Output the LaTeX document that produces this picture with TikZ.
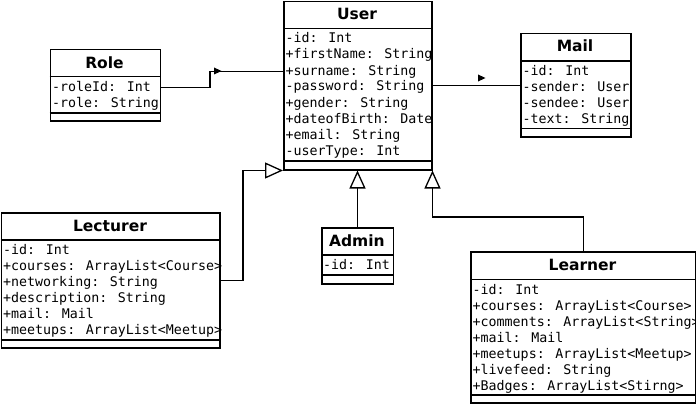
\documentclass[tikz,border=0pt]{standalone}
\usepackage{fontspec}
\setmainfont{DejaVu Sans}
\newfontfamily\attrfamily{DejaVu Sans Mono}
\usetikzlibrary{arrows.meta}

\tikzset{
  classbox/.style={draw, line width=1.5pt, fill=white, inner sep=0pt, anchor=north west},
  sep/.style={line width=1.5pt},
  classname/.style={font=\fontsize{15.5}{18}\selectfont\bfseries, anchor=base, inner sep=0pt},
  attr/.style={font=\attrfamily\fontsize{13.3}{16}\selectfont, anchor=base west, inner sep=0pt},
  assoc/.style={line width=1.3pt},
  inherit/.style={line width=1.3pt, -{Triangle[length=18pt, width=16pt, fill=white]}},
}

\begin{document}
\begin{tikzpicture}[x=1pt, y=-1pt]

\useasboundingbox (0,0) rectangle (696,404);

% User
\node [classbox, minimum width=148pt, minimum height=168pt] (user) at (283,1) {};
\draw [sep] (283,28.5)--(431,28.5);
\draw [sep] (283,161)--(431,161);
\node [classname] (usert) at (357,20) {User};
\node [attr] (user1) at (285.5,43) {-id: Int};
\node [attr] (user2) at (285.5,59) {+firstName: String};
\node [attr] (user3) at (285.5,75) {+surname: String};
\node [attr] (user4) at (285.5,91) {-password: String};
\node [attr] (user5) at (285.5,107) {+gender: String};
\node [attr] (user6) at (285.5,123) {+dateofBirth: Date};
\node [attr] (user7) at (285.5,139) {+email: String};
\node [attr] (user8) at (285.5,155) {-userType: Int};

% Role
\node [classbox, minimum width=110pt, minimum height=71pt] (role) at (49.5,49) {};
\draw [sep] (49.5,76.5)--(159.5,76.5);
\draw [sep] (49.5,113)--(159.5,113);
\node [classname] (rolet) at (104.5,68) {Role};
\node [attr] (role1) at (52,91.5) {-roleId: Int};
\node [attr] (role2) at (52,107.5) {-role: String};

% Mail
\node [classbox, minimum width=110pt, minimum height=103pt] (mail) at (520,33) {};
\draw [sep] (520,61)--(630,61);
\draw [sep] (520,128.5)--(630,128.5);
\node [classname] (mailt) at (575,52) {Mail};
\node [attr] (mail1) at (522.5,75.5) {-id: Int};
\node [attr] (mail2) at (522.5,91.5) {-sender: User};
\node [attr] (mail3) at (522.5,107.5) {-sendee: User};
\node [attr] (mail4) at (522.5,123.5) {-text: String};

% Lecturer
\node [classbox, minimum width=218.3pt, minimum height=135.3pt] (lecturer) at (0.7,212) {};
\draw [sep] (0.7,240)--(219,240);
\draw [sep] (0.7,340)--(219,340);
\node [classname] (lecturert) at (110,231) {Lecturer};
\node [attr] (lecturer1) at (3,254.5) {-id: Int};
\node [attr] (lecturer2) at (3,270.5) {+courses: ArrayList<Course>};
\node [attr] (lecturer3) at (3,286.5) {+networking: String};
\node [attr] (lecturer4) at (3,302.5) {+description: String};
\node [attr] (lecturer5) at (3,318.5) {+mail: Mail};
\node [attr] (lecturer6) at (3,334.5) {+meetups: ArrayList<Meetup>};

% Admin
\node [classbox, minimum width=71.5pt, minimum height=56pt] (admin) at (321,227) {};
\draw [sep] (321,255)--(392.5,255);
\draw [sep] (321,275)--(392.5,275);
\node [classname] (admint) at (356.8,246) {Admin};
\node [attr] (admin1) at (323,269.5) {-id: Int};

% Learner
\node [classbox, minimum width=225pt, minimum height=151.3pt] (learner) at (470,251) {};
\draw [sep] (470,279.5)--(695,279.5);
\draw [sep] (470,395)--(695,395);
\node [classname] (learnert) at (582.5,270) {Learner};
\node [attr] (learner1) at (472.5,294) {-id: Int};
\node [attr] (learner2) at (472.5,310) {+courses: ArrayList<Course>};
\node [attr] (learner3) at (472.5,326) {+comments: ArrayList<String>};
\node [attr] (learner4) at (472.5,342) {+mail: Mail};
\node [attr] (learner5) at (472.5,358) {+meetups: ArrayList<Meetup>};
\node [attr] (learner6) at (472.5,374) {+livefeed: String};
\node [attr] (learner7) at (472.5,390) {+Badges: ArrayList<Stirng>};

% associations
\draw [assoc] ([yshift=-2.5pt]role.east) -| (210,80) |- ([yshift=14pt]user.west);
\fill (214,67.5)--(221.5,71)--(214,74.5)--cycle;
\draw [assoc] (user.east)--(user.east -| mail.west);
\fill (478,74.5)--(485.5,78)--(478,81.5)--cycle;

% generalizations
\draw [inherit] (lecturer.east) -| (243,220) |- (user.south west);
\draw [inherit] (admin.north)--(admin.north |- user.south);
\draw [inherit] (learner.north)--++(0,-34) -| (user.south east);

\end{tikzpicture}
\end{document}
